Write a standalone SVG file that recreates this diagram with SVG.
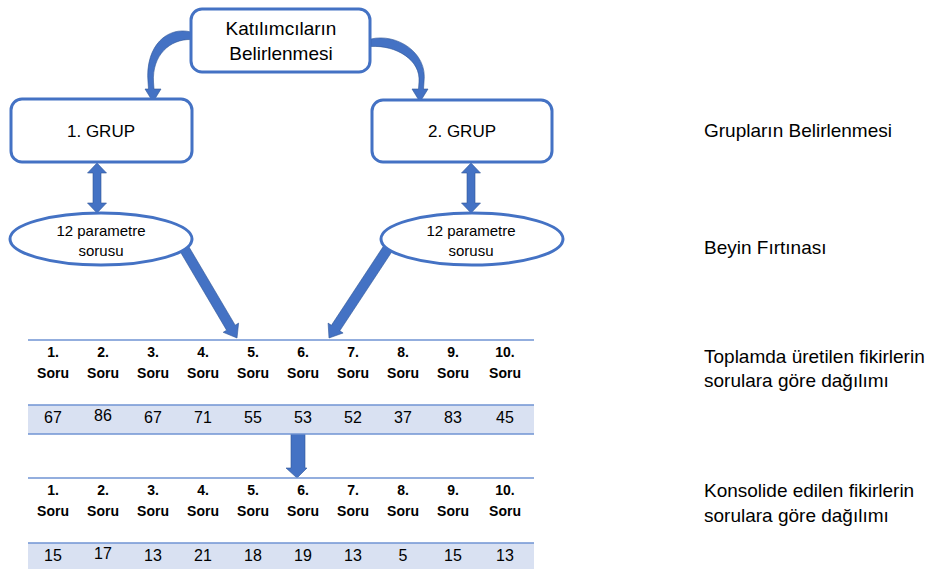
<svg xmlns="http://www.w3.org/2000/svg" width="938" height="569" viewBox="0 0 938 569">
<style>
text{font-family:"Liberation Sans",Arial,sans-serif;fill:#000}
.box{fill:#fff;stroke:#4472C4;stroke-width:3}
.arr{fill:#4472C4;stroke:#2F5597;stroke-width:0.6}
.t19{font-size:19px}
.t17{font-size:17px;text-anchor:middle}
.t15{font-size:15px;text-anchor:middle}
.hd{font-size:14px;font-weight:bold;text-anchor:middle}
.num{font-size:16px;text-anchor:middle}
.band{fill:#D9E1F2}
.tl{stroke:#6F93D3;stroke-width:1.5}
.mid{text-anchor:middle}
</style>
<rect width="938" height="569" fill="#fff"/>

<g id="connectors">
  <path class="arr" d="M191,32 C168,26 145,45 148,82 L148.5,89 L145,89 L153,102 L161,89 L154,89 L153.5,82 C152,55 170,39 191,39.5 Z"/>
  <path class="arr" d="M371,39 C396,33 428,52 424,82 L423.5,89 L428,89 L420,102 L412,89 L418.5,89 L419,82 C421,60 396,45 371,46.5 Z"/>
  <polygon class="arr" points="97,163 106.5,173 101,173 101,203 106.5,203 97,213 87.5,203 93,203 93,173 87.5,173"/>
  <polygon class="arr" points="471,163 480.5,173 475,173 475,203 480.5,203 471,213 461.5,203 467,203 467,173 461.5,173"/>
  <polygon class="arr" points="186.8,243.2 235.2,325.2 238.6,323.1 237,338 223.2,332.3 226.6,330.2 178.2,248.2"/>
  <polygon class="arr" points="393.9,248.6 339.8,330.8 343.1,333 329,338 328.1,323.1 331.4,325.3 385.5,243.1"/>
  <polygon class="arr" points="291,434 305,434 305,468 307,468 297,478 286,468 291,468"/>
</g>

<g id="node-katilimcilar">
  <rect class="box" x="191" y="9" width="179" height="63" rx="11"/>
  <text class="t19 mid" x="281" y="35">Katılımcıların</text>
  <text class="t19 mid" x="281" y="60">Belirlenmesi</text>
</g>

<g id="node-grup1">
  <rect class="box" x="11" y="99" width="181" height="63" rx="11"/>
  <text class="t17" x="101" y="137">1. GRUP</text>
</g>

<g id="node-grup2">
  <rect class="box" x="372" y="100" width="180" height="62" rx="11"/>
  <text class="t17" x="462" y="137">2. GRUP</text>
</g>

<g id="node-soru1">
  <ellipse class="box" cx="101" cy="239" rx="91" ry="26"/>
  <text class="t15" x="101" y="236">12 parametre</text>
  <text class="t15" x="101" y="256">sorusu</text>
</g>

<g id="node-soru2">
  <ellipse class="box" cx="472" cy="239" rx="91" ry="26"/>
  <text class="t15" x="471" y="236">12 parametre</text>
  <text class="t15" x="471" y="256">sorusu</text>
</g>

<g id="table-toplam">
  <rect class="band" x="28" y="405" width="506" height="29"/>
  <line class="tl" x1="28" y1="340" x2="534" y2="340"/>
  <line class="tl" x1="28" y1="405" x2="534" y2="405"/>
  <line class="tl" x1="28" y1="434" x2="534" y2="434"/>
  <g class="hd">
    <text x="53" y="357">1.</text><text x="103" y="357">2.</text><text x="153" y="357">3.</text><text x="203" y="357">4.</text><text x="253" y="357">5.</text><text x="303" y="357">6.</text><text x="353" y="357">7.</text><text x="403" y="357">8.</text><text x="453" y="357">9.</text><text x="505" y="357">10.</text>
    <text x="53" y="378">Soru</text><text x="103" y="378">Soru</text><text x="153" y="378">Soru</text><text x="203" y="378">Soru</text><text x="253" y="378">Soru</text><text x="303" y="378">Soru</text><text x="353" y="378">Soru</text><text x="403" y="378">Soru</text><text x="453" y="378">Soru</text><text x="505" y="378">Soru</text>
  </g>
  <g class="num">
    <text x="53" y="423">67</text><text x="103" y="421">86</text><text x="153" y="423">67</text><text x="203" y="423">71</text><text x="253" y="423">55</text><text x="303" y="423">53</text><text x="353" y="423">52</text><text x="403" y="423">37</text><text x="453" y="423">83</text><text x="505" y="423">45</text>
  </g>
</g>

<g id="table-konsolide">
  <rect class="band" x="28" y="543" width="506" height="26"/>
  <line class="tl" x1="28" y1="478" x2="534" y2="478"/>
  <line class="tl" x1="28" y1="543" x2="534" y2="543"/>
  <g class="hd">
    <text x="53" y="495">1.</text><text x="103" y="495">2.</text><text x="153" y="495">3.</text><text x="203" y="495">4.</text><text x="253" y="495">5.</text><text x="303" y="495">6.</text><text x="353" y="495">7.</text><text x="403" y="495">8.</text><text x="453" y="495">9.</text><text x="505" y="495">10.</text>
    <text x="53" y="516">Soru</text><text x="103" y="516">Soru</text><text x="153" y="516">Soru</text><text x="203" y="516">Soru</text><text x="253" y="516">Soru</text><text x="303" y="516">Soru</text><text x="353" y="516">Soru</text><text x="403" y="516">Soru</text><text x="453" y="516">Soru</text><text x="505" y="516">Soru</text>
  </g>
  <g class="num">
    <text x="53" y="561">15</text><text x="103" y="559">17</text><text x="153" y="561">13</text><text x="203" y="561">21</text><text x="253" y="561">18</text><text x="303" y="561">19</text><text x="353" y="561">13</text><text x="403" y="561">5</text><text x="453" y="561">15</text><text x="505" y="561">13</text>
  </g>
</g>

<g id="labels">
  <text class="t19" x="704" y="137">Grupların Belirlenmesi</text>
  <text class="t19" x="704" y="254">Beyin Fırtınası</text>
  <text class="t19" x="704" y="363">Toplamda üretilen fikirlerin</text>
  <text class="t19" x="704" y="387">sorulara göre dağılımı</text>
  <text class="t19" x="704" y="497">Konsolide edilen fikirlerin</text>
  <text class="t19" x="704" y="522">sorulara göre dağılımı</text>
</g>
</svg>
